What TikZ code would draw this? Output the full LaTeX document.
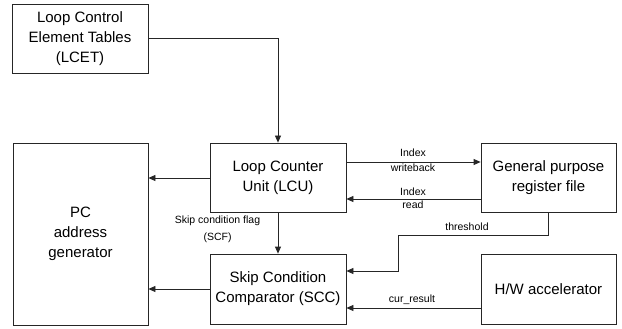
\documentclass[tikz,border=0pt]{standalone}
\usepackage{fontspec}
\setmainfont{Liberation Sans}
\usetikzlibrary{arrows.meta,calc}
\begin{document}
\begin{tikzpicture}[x=1pt,y=-1pt,
  blk/.style={draw=black!85,line width=0.8pt,inner sep=0pt,align=center,
    font=\fontsize{15}{20}\selectfont},
  lbl/.style={inner sep=0pt,align=center,font=\fontsize{10.5}{15}\selectfont},
  conn/.style={draw=black!85,line width=0.8pt,-{Triangle[length=7pt,width=6pt]}}]
\useasboundingbox (0,0) rectangle (622,329);
\node[blk,minimum width=136pt,minimum height=69pt] (lcet) at (80,38.5) {Loop Control\\Element Tables\\(LCET)};
\node[blk,minimum width=135pt,minimum height=182pt] (pc) at (80.5,234) {PC\\address\\generator};
\node[blk,minimum width=136pt,minimum height=69pt] (lcu) at (278,177.5) {Loop Counter\\Unit (LCU)};
\node[blk,minimum width=136pt,minimum height=70pt] (scc) at (278,289) {Skip Condition\\Comparator (SCC)};
\node[blk,minimum width=135pt,minimum height=69pt] (gpr) at (548.5,177.5) {General purpose\\register file};
\node[blk,minimum width=135pt,minimum height=70pt] (hw) at (548.5,289) {H/W accelerator};
\coordinate (wb) at (0,162);
\coordinate (rd) at (0,199);
\coordinate (t1) at (398,235);
\coordinate (t2) at (398,271);
\coordinate (cr) at (0,308);
\coordinate (pcl) at (0,178);
\draw[conn] (lcet.east) -| (lcu.north);
\draw[conn] (lcu.west |- pcl) -- (pc.east |- pcl);
\draw[conn] (scc.west) -- (pc.east |- scc.west);
\draw[conn] (lcu.south) -- (scc.north);
\draw[conn] (lcu.east |- wb) -- (gpr.west |- wb);
\draw[conn] (gpr.west |- rd) -- (lcu.east |- rd);
\draw[conn] (gpr.south) |- (t1) -- (t2) -- (scc.east |- t2);
\draw[conn] (hw.west |- cr) -- (scc.east |- cr);
\node[lbl] (l1) at (413,153) {Index};
\node[lbl] (l2) at (413,168) {writeback};
\node[lbl] (l3) at (413,192) {Index};
\node[lbl] (l4) at (413,205) {read};
\node[lbl] (l5) at (217.5,221) {Skip condition flag};
\node[lbl] (l6) at (217.5,238) {(SCF)};
\node[lbl] (l7) at (467,227) {threshold};
\node[lbl] (l8) at (412,300) {cur\_result};
\end{tikzpicture}
\end{document}
